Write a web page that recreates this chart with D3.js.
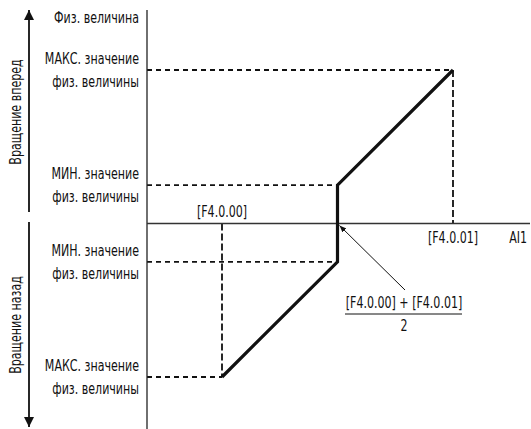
<!DOCTYPE html>
<html>
<head>
<meta charset="utf-8">
<script src="https://cdn.jsdelivr.net/npm/d3@7"></script>
<style>
  html, body { margin: 0; padding: 0; background: #fff; }
  svg text { font-family: "DejaVu Sans Condensed", "Liberation Sans Narrow", sans-serif; font-size: 15px; fill: #111; }
</style>
</head>
<body>
<svg id="chart" width="531" height="429"></svg>
<script>
// characteristic points: AI1 input (0 = [F4.0.00], 1 = [F4.0.01]) -> phys. value
const inputPoints = [0, 0.5, 0.5, 1];
const outputPoints = [-4, -1, 1, 4];
const xTickLabels = ["[F4.0.00]", "[F4.0.01]"];
const xTickValues = [0, 1];
const levelValues = [4, 1, -1, -4];
const levelLabels = [
  ["МАКС. значение", "физ. величины"],
  ["МИН. значение", "физ. величины"],
  ["МИН. значение", "физ. величины"],
  ["МАКС. значение", "физ. величины"]
];
const axisTitle = "Физ. величина";
const xAxisTitle = "AI1";
const directionLabels = ["Вращение вперед", "Вращение назад"];
const formulaTop = "[F4.0.00] + [F4.0.01]";
const formulaBottom = "2";

const svg = d3.select("#chart");
const x = d3.scaleLinear().domain([0, 1]).range([222, 453]);
const y = d3.scaleLinear().domain([-4, 4]).range([377, 70]);
const axisX = 147;
const axisY = y(0);
const squeeze = 0.82;

// condensed-looking text: scale horizontally around anchor point
function label(px, py, str, anchor, rotate) {
  const rot = rotate ? ` rotate(${rotate})` : "";
  return svg.append("text")
    .attr("transform", `translate(${px},${py})${rot} scale(${squeeze},1)`)
    .attr("text-anchor", anchor)
    .text(str);
}

const defs = svg.append("defs");
defs.append("marker").attr("id", "head").attr("viewBox", "0 0 10 10")
  .attr("refX", 10).attr("refY", 5).attr("markerWidth", 7).attr("markerHeight", 7)
  .attr("markerUnits", "userSpaceOnUse").attr("orient", "auto")
  .append("path").attr("d", "M0,1 L10,5 L0,9 Z").attr("fill", "#111");
defs.append("marker").attr("id", "bighead").attr("viewBox", "0 0 10 10")
  .attr("refX", 10).attr("refY", 5).attr("markerWidth", 18).attr("markerHeight", 10)
  .attr("markerUnits", "userSpaceOnUse").attr("orient", "auto")
  .append("path").attr("d", "M0,0 L10,5 L0,10 Z").attr("fill", "#111");

// dashed guides to the break points
levelValues.forEach((v) => {
  const k = outputPoints.indexOf(v);
  svg.append("line")
    .attr("x1", axisX).attr("x2", x(inputPoints[k]))
    .attr("y1", y(v)).attr("y2", y(v))
    .attr("stroke", "#111").attr("stroke-width", 1.8).attr("stroke-dasharray", "5,4");
});
svg.append("line").attr("x1", x(0)).attr("x2", x(0)).attr("y1", axisY).attr("y2", y(-4))
  .attr("stroke", "#111").attr("stroke-width", 1.8).attr("stroke-dasharray", "7,3");
svg.append("line").attr("x1", x(1)).attr("x2", x(1)).attr("y1", y(4)).attr("y2", axisY)
  .attr("stroke", "#111").attr("stroke-width", 1.8).attr("stroke-dasharray", "7,3");

// axes
svg.append("line").attr("x1", axisX).attr("x2", axisX).attr("y1", 10).attr("y2", 429)
  .attr("stroke", "#222").attr("stroke-width", 1.3);
svg.append("line").attr("x1", axisX).attr("x2", 530).attr("y1", axisY).attr("y2", axisY)
  .attr("stroke", "#333").attr("stroke-width", 1.6);

// characteristic line
const line = d3.line().x((d, i) => x(inputPoints[i])).y((d) => y(d));
svg.append("path").datum(outputPoints).attr("d", line)
  .attr("fill", "none").attr("stroke", "#111").attr("stroke-width", 3.2).attr("stroke-linejoin", "miter");

// level labels
levelValues.forEach((v, i) => {
  label(139, y(v) - 6, levelLabels[i][0], "end");
  label(139, y(v) + 17, levelLabels[i][1], "end");
});
label(139, 23, axisTitle, "end");

// x tick labels
label(x(xTickValues[0]), axisY - 7, xTickLabels[0], "middle");
label(x(xTickValues[1]), axisY + 19, xTickLabels[1], "middle");
label(527, axisY + 19, xAxisTitle, "end");

// pointer to midpoint with formula
svg.append("line").attr("x1", 405).attr("y1", 290).attr("x2", x(0.5) + 2).attr("y2", axisY + 2)
  .attr("stroke", "#111").attr("stroke-width", 1).attr("marker-end", "url(#head)");
label(404, 308, formulaTop, "middle");
svg.append("line").attr("x1", 345).attr("x2", 462).attr("y1", 314).attr("y2", 314)
  .attr("stroke", "#111").attr("stroke-width", 1);
label(404, 331, formulaBottom, "middle");

// direction arrows
svg.append("line").attr("x1", 29).attr("x2", 29).attr("y1", 212).attr("y2", 10)
  .attr("stroke", "#111").attr("stroke-width", 1.8).attr("marker-end", "url(#bighead)");
svg.append("line").attr("x1", 29).attr("x2", 29).attr("y1", 222).attr("y2", 427)
  .attr("stroke", "#111").attr("stroke-width", 1.8).attr("marker-end", "url(#bighead)");
label(21, 112, directionLabels[0], "middle", -90);
label(21, 325, directionLabels[1], "middle", -90);
</script>
</body>
</html>
